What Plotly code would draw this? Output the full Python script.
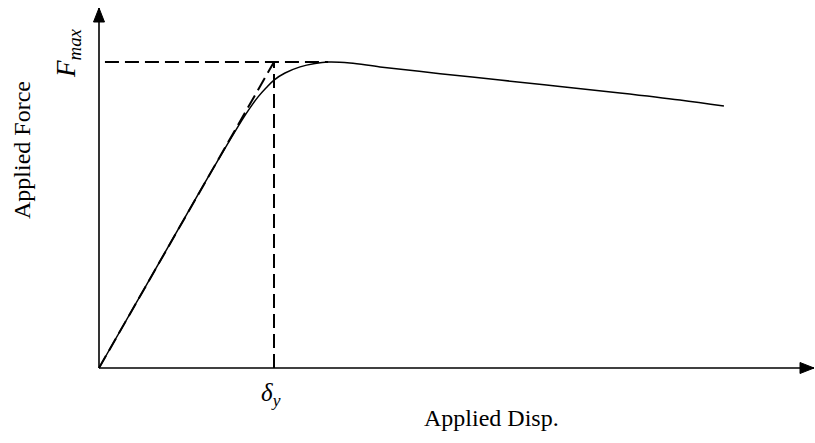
import plotly.graph_objects as go

# Normalised load-displacement response (disp / delta_y, force / F_max)
disp = [0.000, 0.291, 0.577, 0.817, 0.863, 0.909, 0.954, 1.000, 1.063, 1.149,
        1.234, 1.309, 1.434, 1.606, 1.949, 2.291, 2.634, 2.977, 3.320, 3.571]
force = [0.000, 0.291, 0.578, 0.810, 0.850, 0.886, 0.915, 0.941, 0.964, 0.984,
         0.995, 1.000, 0.997, 0.984, 0.962, 0.941, 0.920, 0.899, 0.876, 0.856]

# Reference construction lines
delta_y = 1.0
f_max = 1.0
f_max_disp = 1.309          # displacement at peak force
hline_start = 0.034

# pixel scale of the drawing: 175 px per delta_y, 306 px per F_max
PX_X = 175.0
PX_Y = 306.0
X_RANGE = [-99 / PX_X, (815 - 99) / PX_X]
Y_RANGE = [-(443 - 368) / PX_Y, 368 / PX_Y]

FONT = "Liberation Serif"
DASH = "14px,6px"

fig = go.Figure()

# construction lines (dashed)
for xs, ys in (([0, delta_y], [0, f_max]),
               ([delta_y, delta_y], [0, f_max]),
               ([hline_start, f_max_disp], [f_max, f_max])):
    fig.add_trace(go.Scatter(x=xs, y=ys, mode="lines",
                             line=dict(color="black", width=2, dash=DASH),
                             hoverinfo="skip"))

# response curve
fig.add_trace(go.Scatter(x=disp, y=force, mode="lines", line_shape="spline",
                         line=dict(color="black", width=1.5), hoverinfo="skip"))

# axes drawn as lines with filled arrowheads
x_tip = X_RANGE[1] - 1 / PX_X
y_tip = Y_RANGE[1] - 8 / PX_Y
head_len, head_half = 14, 5.5
ax_line = dict(color="black", width=1.6)
shapes = [
    dict(type="line", xref="x", yref="y", x0=0, y0=0, x1=x_tip, y1=0, line=ax_line),
    dict(type="line", xref="x", yref="y", x0=0, y0=0, x1=0, y1=y_tip, line=ax_line),
    dict(type="path", xref="x", yref="y", fillcolor="black", line=dict(color="black", width=1),
         path=(f"M {x_tip} 0 L {x_tip - head_len / PX_X} {head_half / PX_Y} "
               f"L {x_tip - head_len / PX_X} {-head_half / PX_Y} Z")),
    dict(type="path", xref="x", yref="y", fillcolor="black", line=dict(color="black", width=1),
         path=(f"M 0 {y_tip} L {head_half / PX_X} {y_tip - head_len / PX_Y} "
               f"L {-head_half / PX_X} {y_tip - head_len / PX_Y} Z")),
]

annotations = [
    dict(x=(491 - 99) / PX_X, y=-(418 - 368) / PX_Y, xref="x", yref="y",
         text="Applied Disp.", showarrow=False,
         font=dict(family=FONT, size=24, color="black")),
    dict(x=(22 - 99) / PX_X, y=(368 - 150) / PX_Y, xref="x", yref="y",
         text="Applied Force", showarrow=False, textangle=-90,
         font=dict(family=FONT, size=24, color="black")),
    dict(x=(68 - 99) / PX_X, y=(368 - 53) / PX_Y, xref="x", yref="y",
         text="<i>F</i><sub><i>max</i></sub>", showarrow=False, textangle=-90,
         font=dict(family=FONT, size=27, color="black")),
    dict(x=delta_y - 0.02, y=-(394 - 368) / PX_Y, xref="x", yref="y",
         text="<i>δ</i><sub><i>y</i></sub>", showarrow=False,
         font=dict(family=FONT, size=25, color="black")),
]

fig.update_layout(
    width=815, height=443,
    margin=dict(l=0, r=0, t=0, b=0),
    paper_bgcolor="white", plot_bgcolor="white",
    showlegend=False,
    xaxis=dict(range=X_RANGE, visible=False, fixedrange=True),
    yaxis=dict(range=Y_RANGE, visible=False, fixedrange=True),
    shapes=shapes,
    annotations=annotations,
)

fig.write_html("out.html")
